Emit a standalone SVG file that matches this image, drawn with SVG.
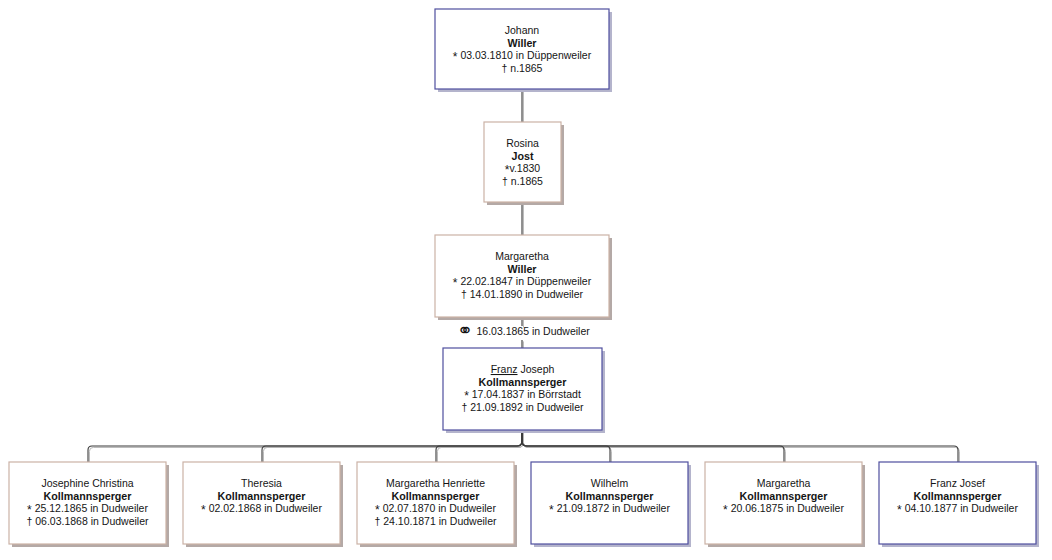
<svg xmlns="http://www.w3.org/2000/svg" width="1052" height="560" viewBox="0 0 1052 560">
<style>
text{font-family:"Liberation Sans",Arial,sans-serif;font-size:10.5px;fill:#151515;text-anchor:middle}
.b{font-weight:bold;font-size:10.7px}
.st{font-size:12px}
.m{fill:#fff;stroke-width:1.2}
.blue .m{stroke:#4f4f9e}
.brown .m{stroke:#cbb2a6}
.blue .s{fill:#b4b4cc}
.brown .s{fill:#b4a9a6}
.ln{fill:none;stroke:#3a3a3a;stroke-width:1.1}
.sh{fill:none;stroke:#b5b5b5;stroke-width:1}
</style>
<rect width="1052" height="560" fill="#fff"/>
<defs>
<g id="paths">
<path d="M522,89V122M522,202V235M522,317V326M522,340V348"/>
<path d="M522,430V441Q522,446 517,446H92Q88,446 88,450V462"/>
<path d="M522,430V441Q522,446 517,446H266Q262,446 262,450V462"/>
<path d="M522,430V441Q522,446 517,446H440Q436,446 436,450V462"/>
<path d="M522,430V441Q522,446 527,446H606Q610,446 610,450V462"/>
<path d="M522,430V441Q522,446 527,446H780Q784,446 784,450V462"/>
<path d="M522,430V441Q522,446 527,446H954Q958,446 958,450V462"/>
</g>
</defs>
<g id="connectors">
<use href="#paths" class="sh" transform="translate(1.4,1.4)"/>
<use href="#paths" class="ln"/>
</g>
<g id="johann" class="blue">
<rect class="s" x="438" y="12" width="174" height="80"/>
<rect class="m" x="435" y="9" width="174" height="80"/>
<text x="522" y="34">Johann</text>
<text class="b" x="522" y="46.6">Willer</text>
<text x="522" y="59.2"><tspan class="st" dy="1.5">*</tspan><tspan dy="-1.5"> 03.03.1810 in Düppenweiler</tspan></text>
<text x="522" y="71.8">† n.1865</text>
</g>
<g id="rosina" class="brown">
<rect class="s" x="487" y="125" width="77" height="80"/>
<rect class="m" x="484" y="122" width="77" height="80"/>
<text x="522.5" y="147">Rosina</text>
<text class="b" x="522.5" y="159.6">Jost</text>
<text x="522.5" y="172.2"><tspan class="st" dy="1.5">*</tspan><tspan dy="-1.5">v.1830</tspan></text>
<text x="522.5" y="184.8">† n.1865</text>
</g>
<g id="margaretha" class="brown">
<rect class="s" x="438" y="238" width="174" height="82"/>
<rect class="m" x="435" y="235" width="174" height="82"/>
<text x="522" y="260">Margaretha</text>
<text class="b" x="522" y="272.6">Willer</text>
<text x="522" y="285.2"><tspan class="st" dy="1.5">*</tspan><tspan dy="-1.5"> 22.02.1847 in Düppenweiler</tspan></text>
<text x="522" y="297.8">† 14.01.1890 in Dudweiler</text>
</g>
<g id="marriage">
<text x="465" y="337" style="font-family:'DejaVu Sans',sans-serif;font-size:19px">⚭</text>
<text x="476.5" y="335" style="text-anchor:start">16.03.1865 in Dudweiler</text>
</g>
<g id="franz" class="blue">
<rect class="s" x="446" y="351" width="159" height="82"/>
<rect class="m" x="443" y="348" width="159" height="82"/>
<text x="522.5" y="373"><tspan text-decoration="underline">Franz</tspan> Joseph</text>
<text class="b" x="522.5" y="385.6">Kollmannsperger</text>
<text x="522.5" y="398.2"><tspan class="st" dy="1.5">*</tspan><tspan dy="-1.5"> 17.04.1837 in Börrstadt</tspan></text>
<text x="522.5" y="410.8">† 21.09.1892 in Dudweiler</text>
</g>
<g id="josephine" class="brown">
<rect class="s" x="12" y="465" width="157" height="82"/>
<rect class="m" x="9" y="462" width="157" height="82"/>
<text x="87.5" y="487">Josephine Christina</text>
<text class="b" x="87.5" y="499.6">Kollmannsperger</text>
<text x="87.5" y="512.2"><tspan class="st" dy="1.5">*</tspan><tspan dy="-1.5"> 25.12.1865 in Dudweiler</tspan></text>
<text x="87.5" y="524.8">† 06.03.1868 in Dudweiler</text>
</g>
<g id="theresia" class="brown">
<rect class="s" x="186" y="465" width="157" height="82"/>
<rect class="m" x="183" y="462" width="157" height="82"/>
<text x="261.5" y="487">Theresia</text>
<text class="b" x="261.5" y="499.6">Kollmannsperger</text>
<text x="261.5" y="512.2"><tspan class="st" dy="1.5">*</tspan><tspan dy="-1.5"> 02.02.1868 in Dudweiler</tspan></text>
</g>
<g id="margaretha-henriette" class="brown">
<rect class="s" x="360" y="465" width="157" height="82"/>
<rect class="m" x="357" y="462" width="157" height="82"/>
<text x="435.5" y="487">Margaretha Henriette</text>
<text class="b" x="435.5" y="499.6">Kollmannsperger</text>
<text x="435.5" y="512.2"><tspan class="st" dy="1.5">*</tspan><tspan dy="-1.5"> 02.07.1870 in Dudweiler</tspan></text>
<text x="435.5" y="524.8">† 24.10.1871 in Dudweiler</text>
</g>
<g id="wilhelm" class="blue">
<rect class="s" x="534" y="465" width="157" height="82"/>
<rect class="m" x="531" y="462" width="157" height="82"/>
<text x="609.5" y="487">Wilhelm</text>
<text class="b" x="609.5" y="499.6">Kollmannsperger</text>
<text x="609.5" y="512.2"><tspan class="st" dy="1.5">*</tspan><tspan dy="-1.5"> 21.09.1872 in Dudweiler</tspan></text>
</g>
<g id="margaretha2" class="brown">
<rect class="s" x="708" y="465" width="157" height="82"/>
<rect class="m" x="705" y="462" width="157" height="82"/>
<text x="783.5" y="487">Margaretha</text>
<text class="b" x="783.5" y="499.6">Kollmannsperger</text>
<text x="783.5" y="512.2"><tspan class="st" dy="1.5">*</tspan><tspan dy="-1.5"> 20.06.1875 in Dudweiler</tspan></text>
</g>
<g id="franz-josef" class="blue">
<rect class="s" x="882" y="465" width="157" height="82"/>
<rect class="m" x="879" y="462" width="157" height="82"/>
<text x="957.5" y="487">Franz Josef</text>
<text class="b" x="957.5" y="499.6">Kollmannsperger</text>
<text x="957.5" y="512.2"><tspan class="st" dy="1.5">*</tspan><tspan dy="-1.5"> 04.10.1877 in Dudweiler</tspan></text>
</g>
</svg>
